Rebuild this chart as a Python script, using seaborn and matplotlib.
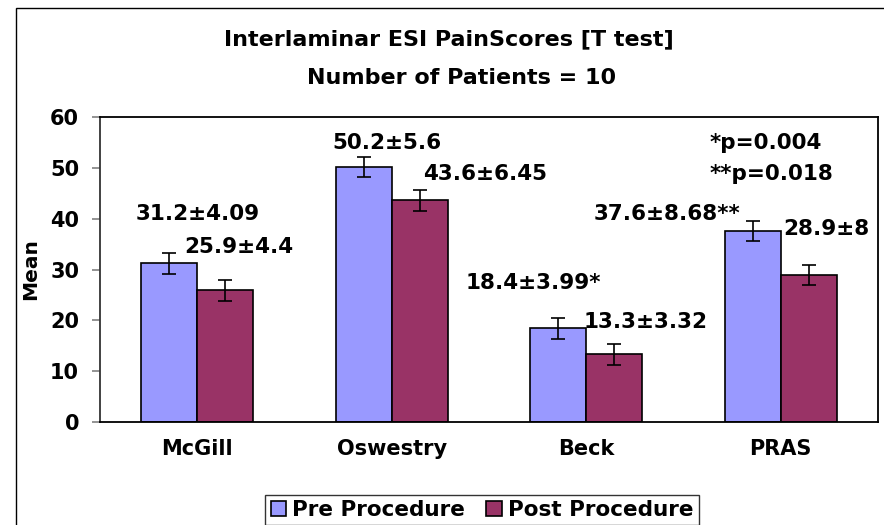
import matplotlib
matplotlib.use("Agg")
import matplotlib.pyplot as plt
import pandas as pd
import seaborn as sns
from matplotlib.patches import Rectangle

# ── data ──────────────────────────────────────────────────────
categories = ["McGill", "Oswestry", "Beck", "PRAS"]
pre_means = [31.2, 50.2, 18.4, 37.6]
post_means = [25.9, 43.6, 13.3, 28.9]
pre_err = [2.0, 2.0, 2.0, 2.0]
post_err = [2.0, 2.0, 2.0, 2.0]
series = ["Pre Procedure", "Post Procedure"]

bar_labels = ["31.2±4.09", "25.9±4.4", "50.2±5.6", "43.6±6.45",
              "18.4±3.99*", "13.3±3.32", "37.6±8.68**", "28.9±8"]
p_labels = ["*p=0.004", "**p=0.018"]

# label anchor positions (data coords)
label_pos = [(0.0, 41.0), (0.214, 34.5), (0.974, 54.9), (1.478, 48.7),
             (1.730, 27.3), (2.307, 19.7), (2.414, 40.9), (3.233, 38.0)]
p_pos = [(2.636, 54.8), (2.636, 48.7)]

colors = ["#9999FF", "#993366"]

df = pd.DataFrame({
    "category": categories * 2,
    "group": [series[0]] * 4 + [series[1]] * 4,
    "mean": pre_means + post_means,
    "err": pre_err + post_err,
})

sns.set_style("white")
plt.rcParams["font.family"] = ["DejaVu Sans"]
plt.rcParams["font.weight"] = "bold"
plt.rcParams["text.color"] = "black"
plt.rcParams["xtick.color"] = "black"
plt.rcParams["ytick.color"] = "black"
plt.rcParams["axes.labelcolor"] = "black"

fig = plt.figure(figsize=(8.84, 5.25), dpi=100)
ax = fig.add_axes([100 / 884, 1 - 422 / 525, 778 / 884, 305 / 525])

sns.barplot(data=df, x="category", y="mean", hue="group", order=categories,
            hue_order=series, palette=colors, errorbar=None, width=0.575,
            edgecolor="black", linewidth=1.2, saturation=1, ax=ax)

# error bars on the bar centres seaborn produced
for cont, errs in zip(ax.containers, [pre_err, post_err]):
    xs = [p.get_x() + p.get_width() / 2 for p in cont.patches]
    ys = [p.get_height() for p in cont.patches]
    ax.errorbar(xs, ys, yerr=errs, fmt="none", ecolor="black",
                elinewidth=1.2, capsize=5, capthick=1.2)

ax.set_ylim(0, 60)
ax.set_xlim(-0.5, 3.5)
ax.set_yticks(range(0, 61, 10))
ax.set_xlabel("")
ax.set_ylabel("Mean", fontsize=14.5, fontweight="bold", labelpad=7)
ax.tick_params(axis="y", left=True, length=6, width=1.2, color="#808080",
               labelsize=15, pad=9)
ax.tick_params(axis="x", bottom=False, labelsize=15, pad=9)
for lab in ax.get_xticklabels() + ax.get_yticklabels():
    lab.set_fontweight("bold")
for side in ["left", "right", "top", "bottom"]:
    ax.spines[side].set_visible(True)
    ax.spines[side].set_color("black")
    ax.spines[side].set_linewidth(1.3)
ax.spines["left"].set_color("#333333")

for txt, (x, y) in zip(bar_labels, label_pos):
    ax.text(x, y, txt, ha="center", va="center", fontsize=15.5, fontweight="bold")
for txt, (x, y) in zip(p_labels, p_pos):
    ax.text(x, y, txt, ha="left", va="center", fontsize=15.5, fontweight="bold")

fig.text(449 / 884, 1 - 39 / 525, "Interlaminar ESI PainScores [T test]",
         ha="center", va="center", fontsize=16, fontweight="bold")
fig.text(462 / 884, 1 - 78 / 525, "Number of Patients = 10",
         ha="center", va="center", fontsize=16, fontweight="bold")

ax.get_legend().remove()
handles = [Rectangle((0, 0), 1, 1, facecolor=c, edgecolor="black", linewidth=1.2)
           for c in colors]
leg = fig.legend(handles, series, loc="center", bbox_to_anchor=(482 / 884, 1 - 510 / 525),
                 ncol=2, fontsize=15.5, frameon=True, fancybox=False,
                 handlelength=0.7, handleheight=0.7, handletextpad=0.3,
                 columnspacing=1.0, borderpad=0.25, borderaxespad=0)
leg.get_frame().set_edgecolor("black")
leg.get_frame().set_linewidth(1.0)
for t in leg.get_texts():
    t.set_fontweight("bold")

# outer chart frame
fig.patches.append(Rectangle((16 / 884, -0.1), 1.0, 1 - 8 / 525 + 0.1,
                             transform=fig.transFigure, fill=False,
                             edgecolor="black", linewidth=1.0))

fig.savefig("out.png", dpi=100)
